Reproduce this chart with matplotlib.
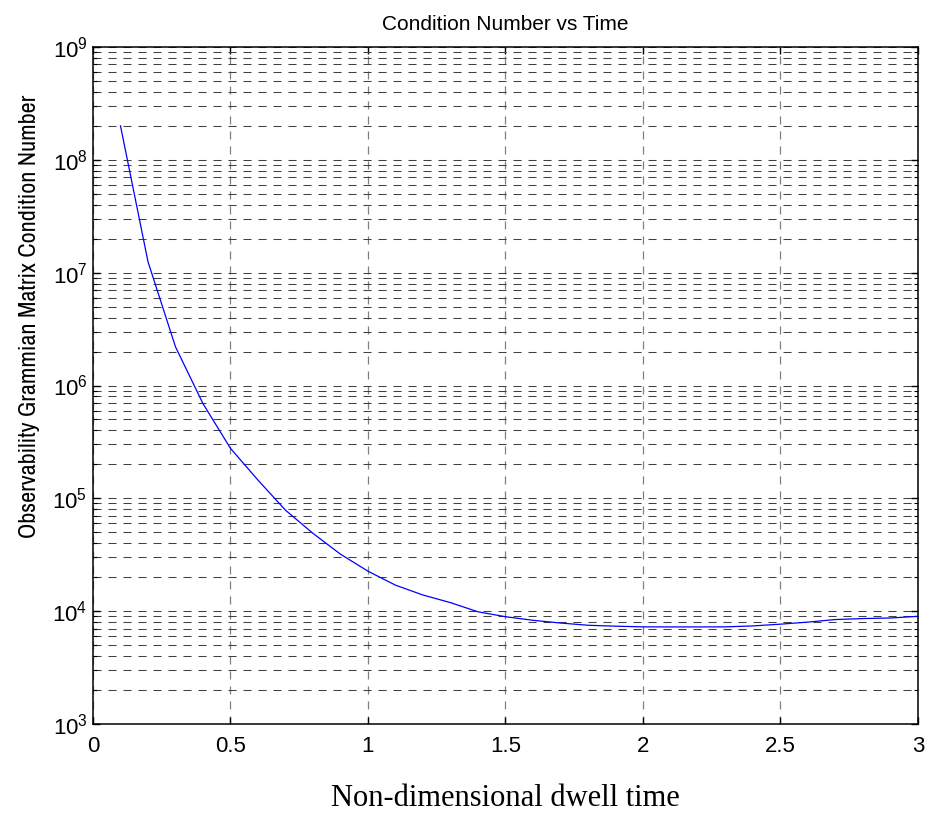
import matplotlib
matplotlib.use("Agg")
import matplotlib.pyplot as plt
from matplotlib import font_manager
from matplotlib.ticker import FixedLocator, NullFormatter, LogFormatterMathtext

# ---- data ----
dwell_time = [0.1, 0.2, 0.3, 0.4, 0.5, 0.6, 0.7, 0.8, 0.9, 1.0,
              1.1, 1.2, 1.3, 1.4, 1.5, 1.6, 1.7, 1.8, 1.9, 2.0,
              2.1, 2.2, 2.3, 2.4, 2.5, 2.6, 2.7, 2.8, 2.9, 3.0]
cond_number = [2.0e8, 1.25e7, 2.2e6, 6.9e5, 2.77e5, 1.45e5, 7.85e4, 4.89e4, 3.2e4, 2.26e4,
               1.70e4, 1.39e4, 1.19e4, 9.87e3, 8.93e3, 8.3e3, 7.85e3, 7.5e3, 7.36e3, 7.26e3,
               7.25e3, 7.25e3, 7.26e3, 7.4e3, 7.67e3, 8.0e3, 8.43e3, 8.6e3, 8.7e3, 9.0e3]
x_ticks = [0, 0.5, 1, 1.5, 2, 2.5, 3]
x_tick_labels = ["0", "0.5", "1", "1.5", "2", "2.5", "3"]
y_decades = [3, 4, 5, 6, 7, 8, 9]

title_text = "Condition Number vs Time"
x_label = "Non-dimensional dwell time"
y_label = "Observability Grammian Matrix Condition Number"

plt.rcParams['lines.scale_dashes'] = False
plt.rcParams['font.family'] = ['Liberation Sans', 'DejaVu Sans']
plt.rcParams['mathtext.fontset'] = 'custom'
plt.rcParams['mathtext.rm'] = 'Liberation Sans'
plt.rcParams['mathtext.it'] = 'Liberation Sans:italic'

# pick a condensed sans face if one is installed
fm = font_manager.fontManager
narrow_family = 'Liberation Sans'
narrow_stretch = 'normal'
for f in fm.ttflist:
    if 'Narrow' in f.name:
        narrow_family = f.name
        break
else:
    for f in fm.ttflist:
        if f.name == 'DejaVu Sans' and f.stretch in ('condensed', 'semi-condensed', 600, 700) and f.style == 'normal':
            narrow_family = 'DejaVu Sans'
            narrow_stretch = 'condensed'
            break

W, H = 928, 818
fig = plt.figure(figsize=(W / 100, H / 100), dpi=100)
L, R, T, B = 93, 918, 47, 724
ax = fig.add_axes([L / W, 1 - B / H, (R - L) / W, (B - T) / H])

ax.plot(dwell_time, cond_number, color='#0000ff', lw=0.9)
ax.set_yscale('log')
ax.set_xlim(0, 3)
ax.set_ylim(10.0 ** y_decades[0], 10.0 ** y_decades[-1])

ax.xaxis.set_major_locator(FixedLocator(x_ticks))
ax.set_xticklabels(x_tick_labels)
major_y = [10.0 ** d for d in y_decades]
minor_y = [m * 10.0 ** d for d in y_decades[:-1] for m in range(2, 10)]
ax.yaxis.set_major_locator(FixedLocator(major_y))
ax.yaxis.set_major_formatter(LogFormatterMathtext())
ax.yaxis.set_minor_locator(FixedLocator(minor_y))
ax.yaxis.set_minor_formatter(NullFormatter())

ax.tick_params(axis='both', which='both', direction='in', top=True, right=True,
               labelsize=16, colors='black')
ax.tick_params(axis='both', which='major', length=5, width=1)
ax.tick_params(axis='y', which='minor', length=3, width=0.8)
ax.tick_params(axis='x', pad=9)
ax.tick_params(axis='y', pad=4)

dash = (0, (5.8, 5.0))
ax.grid(True, axis='y', which='both', color='0.25', lw=0.75, linestyle=dash)
ax.grid(True, axis='x', which='major', color='0.5', lw=0.9, linestyle=dash)

for s in ax.spines.values():
    s.set_linewidth(1.1)
    s.set_color('black')

ax.set_title(title_text, fontsize=15, pad=12)
ax.set_xlabel(x_label, family=['Liberation Serif', 'DejaVu Serif'], fontsize=22)
ax.xaxis.set_label_coords(0.5, (B - 798) / (B - T))
ax.xaxis.label.set_va('center')

ylab = ax.set_ylabel(y_label, family=[narrow_family, 'DejaVu Sans'],
                     fontstretch=narrow_stretch, fontsize=20)
ax.yaxis.set_label_coords((30 - L) / (R - L), (B - 316) / (B - T))
ylab.set_va('center')

# fit the label to the length it has in the reference (about 441 px)
fig.canvas.draw()
ext = ylab.get_window_extent()
ylab.set_fontsize(20 * 441.0 / ext.height)

fig.savefig("out.png", dpi=100)
